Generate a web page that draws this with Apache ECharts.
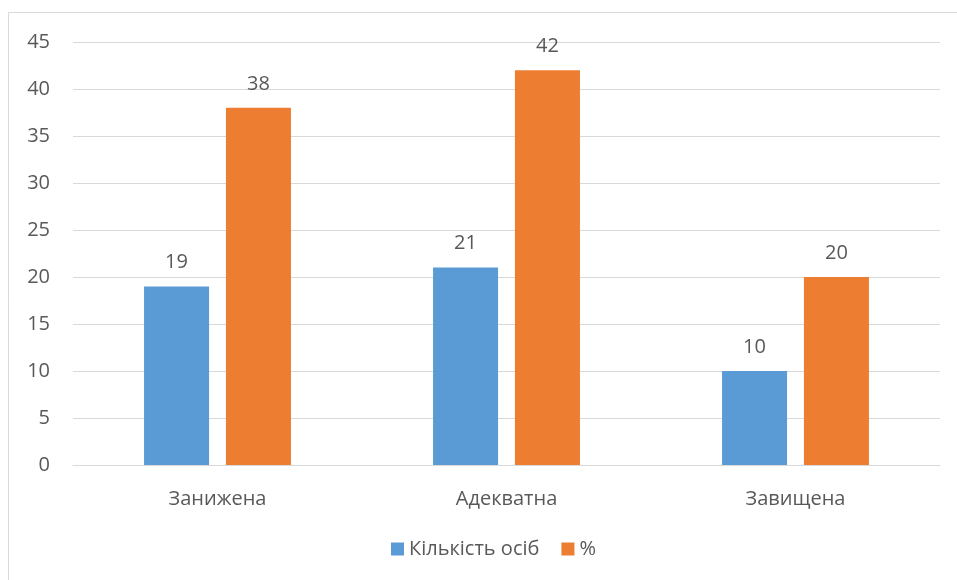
<!DOCTYPE html>
<html>
<head>
<meta charset="utf-8">
<script src="https://cdn.jsdelivr.net/npm/echarts@6/dist/echarts.min.js"></script>
<style>
  html, body { margin: 0; padding: 0; background: #fff; }
  #chart { width: 957px; height: 580px; }
</style>
</head>
<body>
<div id="chart"></div>
<script>
// Рівень самооцінки: кількість осіб і відсоток
const categories = ['Занижена', 'Адекватна', 'Завищена'];
const countValues = [19, 21, 10];
const percentValues = [38, 42, 20];
const seriesNames = ['Кількість осіб', '%'];

const textColor = '#595959';
const fontFamily = '"Open Sans", "Noto Sans", sans-serif';

const chart = echarts.init(document.getElementById('chart'), null, { renderer: 'canvas' });

chart.setOption({
  animation: false,
  backgroundColor: '#ffffff',
  textStyle: { fontFamily: fontFamily, color: textColor },
  graphic: [{
    type: 'rect',
    shape: { x: 8.5, y: 12.5, width: 980, height: 600 },
    style: { fill: 'none', stroke: '#d9d9d9', lineWidth: 1 },
    silent: true
  }],
  grid: { left: 73, right: 17, top: 42, bottom: 115, containLabel: false },
  legend: {
    bottom: 16,
    left: 386,
    itemWidth: 13,
    itemHeight: 13,
    itemGap: 22,
    icon: 'rect',
    textStyle: { fontSize: 20, color: textColor, fontFamily: fontFamily },
    data: seriesNames
  },
  xAxis: {
    type: 'category',
    data: categories,
    axisLine: { lineStyle: { color: '#d9d9d9' } },
    axisTick: { show: false },
    axisLabel: { fontSize: 20, color: textColor, margin: 24 }
  },
  yAxis: {
    type: 'value',
    min: 0,
    max: 45,
    interval: 5,
    axisLine: { show: false },
    axisTick: { show: false },
    axisLabel: { fontSize: 20, color: textColor, margin: 23 },
    splitLine: { lineStyle: { color: '#d9d9d9', width: 1 } }
  },
  series: [
    {
      name: seriesNames[0],
      type: 'bar',
      data: countValues,
      barWidth: 65,
      barGap: '26%',
      itemStyle: { color: '#5B9BD5' },
      label: { show: true, position: 'top', distance: 14, fontSize: 20, color: textColor }
    },
    {
      name: seriesNames[1],
      type: 'bar',
      data: percentValues,
      barWidth: 65,
      itemStyle: { color: '#ED7D31' },
      label: { show: true, position: 'top', distance: 14, fontSize: 20, color: textColor }
    }
  ]
});
</script>
</body>
</html>
